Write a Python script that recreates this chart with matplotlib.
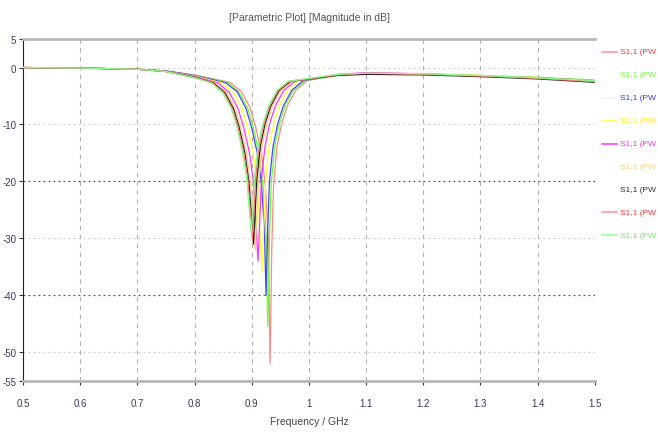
import matplotlib
matplotlib.use("Agg")
import matplotlib.pyplot as plt
from matplotlib.lines import Line2D

plt.rcParams['font.family'] = ['Liberation Sans', 'DejaVu Sans']

# S1,1 sweeps (PW parameter): frequency in GHz, magnitude in dB
freq_1 = [0.5, 0.6, 0.7, 0.75, 0.8, 0.862, 0.882, 0.897, 0.907, 0.917, 0.924, 0.929, 0.932,
          0.935, 0.938, 0.944, 0.952, 0.962, 0.977, 0.997, 1.05, 1.1, 1.2, 1.3, 1.4, 1.5]
s11_1 = [0.0, -0.1, -0.3, -0.6, -1.3, -2.6, -4.2, -7.0, -10.5, -15.0, -21.0, -30, -52,
         -32, -21, -14, -10, -6.8, -4.0, -2.3, -1.3, -1.0, -1.1, -1.4, -1.8, -2.3]

freq_2 = [0.5, 0.6, 0.7, 0.75, 0.8, 0.858, 0.878, 0.893, 0.903, 0.913, 0.920, 0.925, 0.928,
          0.931, 0.934, 0.940, 0.948, 0.958, 0.973, 0.993, 1.05, 1.1, 1.2, 1.3, 1.4, 1.5]
s11_2 = [0.0, -0.1, -0.3, -0.6, -1.4, -2.6, -4.3, -7.1, -10.6, -15.2, -21.0, -29, -45.5,
         -30, -20.5, -14, -10, -6.8, -4.0, -2.3, -1.4, -1.1, -1.2, -1.4, -1.7, -2.2]

freq_3 = [0.5, 0.6, 0.7, 0.75, 0.8, 0.855, 0.875, 0.890, 0.900, 0.910, 0.917, 0.922, 0.925,
          0.928, 0.931, 0.937, 0.945, 0.955, 0.970, 0.990, 1.05, 1.1, 1.2, 1.3, 1.4, 1.5]
s11_3 = [0.0, -0.1, -0.3, -0.6, -1.4, -2.7, -4.3, -7.2, -10.6, -15.2, -20.5, -28, -40,
         -28, -20, -14, -10, -6.8, -4.0, -2.3, -1.3, -1.0, -1.2, -1.5, -1.9, -2.4]

freq_4 = [0.5, 0.6, 0.7, 0.75, 0.8, 0.848, 0.868, 0.883, 0.893, 0.903, 0.910, 0.918,
          0.924, 0.930, 0.938, 0.948, 0.963, 0.983, 1.05, 1.1, 1.2, 1.3, 1.4, 1.5]
s11_4 = [0.0, -0.1, -0.3, -0.7, -1.5, -2.7, -4.4, -7.2, -10.6, -15.2, -20.5, -36,
         -20, -14, -10, -6.8, -4.0, -2.3, -1.3, -1.0, -1.1, -1.4, -1.8, -2.5]

freq_5 = [0.5, 0.6, 0.7, 0.75, 0.8, 0.841, 0.861, 0.876, 0.886, 0.896, 0.903, 0.911,
          0.917, 0.923, 0.931, 0.941, 0.956, 0.976, 1.05, 1.1, 1.2, 1.3, 1.4, 1.5]
s11_5 = [0.0, -0.1, -0.3, -0.7, -1.6, -2.7, -4.4, -7.2, -10.5, -15.0, -20.0, -34,
         -19.5, -14, -10, -6.8, -4.0, -2.4, -1.2, -0.9, -1.1, -1.5, -1.8, -2.3]

freq_6 = [0.5, 0.6, 0.7, 0.75, 0.8, 0.836, 0.856, 0.871, 0.881, 0.891, 0.898, 0.906,
          0.912, 0.918, 0.926, 0.936, 0.951, 0.971, 1.05, 1.1, 1.2, 1.3, 1.4, 1.5]
s11_6 = [0.0, -0.1, -0.3, -0.7, -1.7, -2.7, -4.4, -7.2, -10.5, -15.0, -20.0, -32,
         -19.5, -13.8, -10, -6.8, -4.0, -2.4, -1.3, -1.1, -1.2, -1.5, -1.9, -2.4]

freq_7 = [0.5, 0.6, 0.7, 0.75, 0.8, 0.833, 0.853, 0.868, 0.878, 0.888, 0.895, 0.903,
          0.909, 0.915, 0.923, 0.933, 0.948, 0.968, 1.05, 1.1, 1.2, 1.3, 1.4, 1.5]
s11_7 = [0.0, -0.1, -0.3, -0.7, -1.7, -2.7, -4.4, -7.2, -10.5, -15.0, -20.0, -31,
         -19.5, -13.8, -10, -6.8, -4.0, -2.4, -1.4, -1.2, -1.3, -1.6, -2.0, -2.6]

freq_8 = [0.5, 0.6, 0.7, 0.75, 0.8, 0.831, 0.851, 0.866, 0.876, 0.886, 0.893, 0.901,
          0.907, 0.913, 0.921, 0.931, 0.946, 0.966, 1.05, 1.1, 1.2, 1.3, 1.4, 1.5]
s11_8 = [0.0, -0.1, -0.3, -0.7, -1.8, -2.7, -4.4, -7.2, -10.5, -15.0, -19.5, -30,
         -19, -13.8, -10, -6.8, -4.0, -2.4, -1.3, -1.0, -1.2, -1.5, -1.9, -2.5]

freq_9 = [0.5, 0.6, 0.7, 0.75, 0.8, 0.829, 0.849, 0.864, 0.874, 0.884, 0.891, 0.899,
          0.905, 0.911, 0.919, 0.929, 0.944, 0.964, 1.05, 1.1, 1.2, 1.3, 1.4, 1.5]
s11_9 = [0.0, -0.1, -0.3, -0.7, -1.8, -2.7, -4.4, -7.2, -10.5, -15.0, -19.5, -29,
         -19, -13.8, -10, -6.8, -4.0, -2.4, -1.2, -1.0, -1.1, -1.4, -1.8, -2.3]

freqs = [freq_1, freq_2, freq_3, freq_4, freq_5, freq_6, freq_7, freq_8, freq_9]
s11s = [s11_1, s11_2, s11_3, s11_4, s11_5, s11_6, s11_7, s11_8, s11_9]
labels = ["S1,1 (PW"] * 9

line_colors = ["#ff8888", "#66ff33", "#4444ff", "#ffff33", "#ff33ff",
               "#ffcc77", "#222222", "#ff7777", "#88ff88"]
text_colors = ["#ff3333", "#66ff33", "#3333ff", "#ffee00", "#ff22ff",
               "#ffcc77", "#333333", "#ff3333", "#66ee55"]
legend_lines = ["#ff9999", "#ffffff", "#f4f4f4", "#ffff55", "#ff44ff",
                "#ffffff", "#ffffff", "#ff9999", "#99ff99"]

xticks = [0.5, 0.6, 0.7, 0.8, 0.9, 1, 1.1, 1.2, 1.3, 1.4, 1.5]
xtick_labels = ["0.5", "0.6", "0.7", "0.8", "0.9", "1", "1.1", "1.2", "1.3", "1.4", "1.5"]
yticks = [5, 0, -10, -20, -30, -40, -50, -55]
ytick_labels = ["5", "0", "-10", "-20", "-30", "-40", "-50", "-55"]

fig = plt.figure(figsize=(6.58, 4.35), dpi=100)
ax = fig.add_axes([0.035, 0.122, 0.869, 0.786])

for f, s, c in zip(freqs, s11s, line_colors):
    ax.plot(f, s, color=c, lw=0.9, zorder=3)

ax.set_xlim(0.5, 1.5)
ax.set_ylim(-55, 5)

# grid like the CST export
for x in xticks[1:-1]:
    ax.axvline(x, color="#b0b0b0", lw=0.8, ls=(0, (4, 4)), zorder=1)
for y in [0, -10, -30, -50]:
    ax.axhline(y, color="#c8c8c8", lw=0.8, ls=(0, (1.5, 3)), zorder=1)
for y in [-20, -40]:
    ax.axhline(y, color="#555555", lw=0.9, ls=(0, (1.5, 2.5)), zorder=1)

for side in ["top", "bottom"]:
    ax.spines[side].set_color("#b8b8b8")
    ax.spines[side].set_linewidth(2)
ax.spines["right"].set_visible(False)
ax.spines["left"].set_color("#222222")
ax.spines["left"].set_linewidth(0.8)

ax.set_xticks(xticks)
ax.set_xticklabels(xtick_labels)
ax.set_yticks(yticks)
ax.set_yticklabels(ytick_labels)
ax.tick_params(axis="both", length=3, width=0.8, color="#333333",
               labelsize=7, labelcolor="#3a3a5a", pad=9)
ax.tick_params(axis="y", pad=2)

ax.set_xlabel("Frequency / GHz", fontsize=7.5, color="#444444", labelpad=6)
fig.text(0.47, 0.958, "[Parametric Plot] [Magnitude in dB]", fontsize=7.5,
         color="#555555", ha="center", va="center")

# legend squeezed against the right edge
for i, lab in enumerate(labels):
    yy = 1 - (53 + i * 22.9) / 435
    fig.add_artist(Line2D([602 / 658, 617 / 658], [yy, yy], color=legend_lines[i], lw=1.2))
    fig.text(656 / 658, yy, lab, fontsize=6, color=text_colors[i], va="center", ha="right")

fig.savefig("out.png", dpi=100)
